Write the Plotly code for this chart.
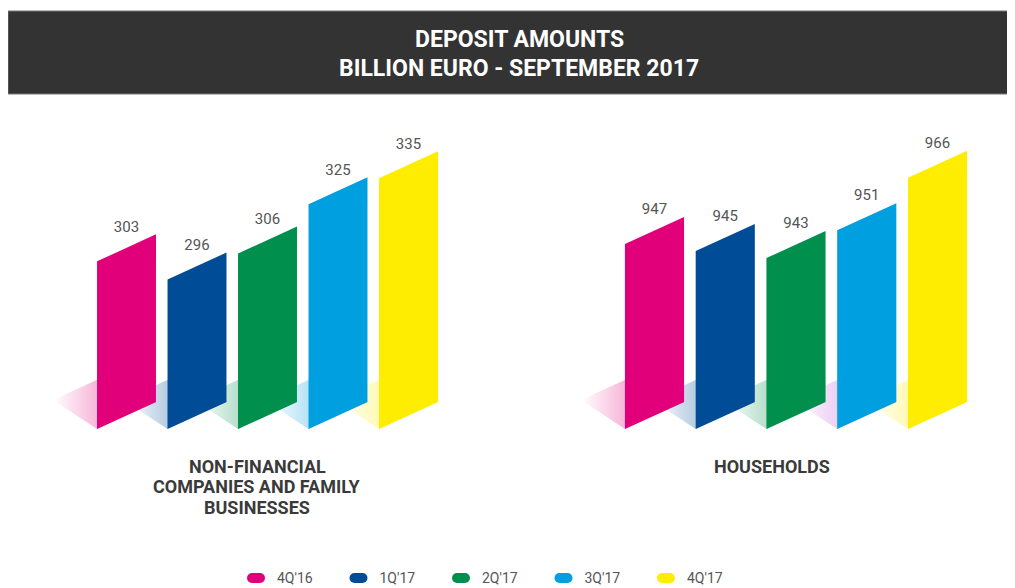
import plotly.graph_objects as go

# ---------------- data ----------------
quarters = ["4Q'16", "1Q'17", "2Q'17", "3Q'17", "4Q'17"]
nfc_values = [303, 296, 306, 325, 335]
household_values = [947, 945, 943, 951, 966]
group_titles = [["NON-FINANCIAL", "COMPANIES AND FAMILY", "BUSINESSES"], ["HOUSEHOLDS"]]
title_lines = ["DEPOSIT AMOUNTS", "BILLION EURO - SEPTEMBER 2017"]

bar_colors = ["#E2007A", "#004C97", "#008F4C", "#009FDF", "#FFED00"]
shadow_rgb_nfc = [(226, 0, 122), (0, 76, 151), (0, 143, 76), (0, 159, 223), (255, 237, 0)]
shadow_rgb_hh = [(226, 0, 122), (0, 76, 151), (0, 143, 76), (190, 90, 220), (255, 237, 0)]

# ---------------- layout constants (reference-window pixels) ----------------
W, H = 1015, 588
OFF = 8  # page body margin: figure origin sits 8px into the window
Y_BOTTOM_PX, Y_TOP_PX, BASE_PX = 440, 120, 429
SKEW_PX = 27
SHADOW_DX_PX, SHADOW_DY_PX = -44, 29
X_RANGE = [-1.2, 4.8]
HALF = 0.418


def pxx(p):
    return (p - OFF) / W


def pxy(p):
    return 1 - (p - OFF) / H


groups = [
    dict(values=nfc_values, shadows=shadow_rgb_nfc, xpx=(41.9, 464.9), base=238.4, ppu=2.595,
         xa="x", ya="y", label_x=257),
    dict(values=household_values, shadows=shadow_rgb_hh, xpx=(569.6, 994.1), base=894.1, ppu=3.495,
         xa="x2", ya="y2", label_x=772),
]

fig = go.Figure()

for g in groups:
    base, ppu = g["base"], g["ppu"]
    unit_px = (g["xpx"][1] - g["xpx"][0]) / (X_RANGE[1] - X_RANGE[0])
    skew = SKEW_PX / ppu
    sdx = SHADOW_DX_PX / unit_px
    sdy = SHADOW_DY_PX / ppu
    # shadows first
    for i, v in enumerate(g["values"]):
        xl, xr = i - HALF, i + HALF
        r, gg, b = g["shadows"][i]
        fig.add_trace(go.Scatter(
            x=[xl, xr, xr + sdx, xl + sdx, xl],
            y=[base, base + skew, base + skew + sdy, base + sdy, base],
            mode="lines", fill="toself", line=dict(width=0, color="rgba(0,0,0,0)"),
            fillgradient=dict(type="horizontal", colorscale=[
                [0, f"rgba({r},{gg},{b},0)"],
                [0.45, f"rgba({r},{gg},{b},0.3)"],
                [1, f"rgba({r},{gg},{b},0.42)"]]),
            xaxis=g["xa"], yaxis=g["ya"], hoverinfo="skip", showlegend=False))
    # bars
    for i, v in enumerate(g["values"]):
        xl, xr = i - HALF, i + HALF
        fig.add_trace(go.Scatter(
            x=[xl, xr, xr, xl, xl],
            y=[base, base + skew, v + skew, v, base],
            mode="lines", fill="toself", fillcolor=bar_colors[i],
            line=dict(width=0, color=bar_colors[i]),
            xaxis=g["xa"], yaxis=g["ya"], name=quarters[i], showlegend=False))
    # value labels
    fig.add_trace(go.Scatter(
        x=list(range(len(g["values"]))),
        y=[v + skew / 2 + 20 / ppu for v in g["values"]],
        text=[str(v) for v in g["values"]],
        mode="text", textposition="middle center",
        textfont=dict(family="Roboto", size=15, color="#555555"),
        xaxis=g["xa"], yaxis=g["ya"], hoverinfo="skip", showlegend=False))

# ---------------- legend (manual pills) ----------------
LEG_X0, LEG_STEP, LEG_Y = 256, 102.5, 578
for i, q in enumerate(quarters):
    cx = LEG_X0 + i * LEG_STEP
    fig.add_trace(go.Scatter(
        x=[cx - 4, cx + 4], y=[LEG_Y, LEG_Y], mode="lines+markers",
        line=dict(width=10, color=bar_colors[i]),
        marker=dict(size=10, color=bar_colors[i], line=dict(width=0)),
        xaxis="x3", yaxis="y3", hoverinfo="skip", showlegend=False))
    fig.add_trace(go.Scatter(
        x=[cx + 21], y=[LEG_Y + 1], text=[q], mode="text", textposition="middle right",
        textfont=dict(family="Roboto", size=14, color="#555555"),
        xaxis="x3", yaxis="y3", hoverinfo="skip", showlegend=False))

hidden = dict(visible=False, fixedrange=True)
layout_axes = {}
for k, g in enumerate(groups):
    sfx = "" if k == 0 else "2"
    base, ppu = g["base"], g["ppu"]
    layout_axes["xaxis" + sfx] = dict(hidden, domain=[pxx(g["xpx"][0]), pxx(g["xpx"][1])], range=X_RANGE)
    layout_axes["yaxis" + sfx] = dict(hidden, domain=[pxy(Y_BOTTOM_PX), pxy(Y_TOP_PX)],
                                      range=[base - (Y_BOTTOM_PX - BASE_PX) / ppu,
                                             base + (BASE_PX - Y_TOP_PX) / ppu],
                                      anchor="x" + sfx)
layout_axes["xaxis3"] = dict(hidden, domain=[0, 1], range=[OFF, W + OFF], anchor="y3")
layout_axes["yaxis3"] = dict(hidden, domain=[0, 1], range=[H + OFF, OFF], anchor="x3")

annotations = []
for j, line in enumerate(title_lines):
    annotations.append(dict(text="<b>" + line + "</b>", x=pxx(519), y=pxy(40 + 28 * j),
                            xref="paper", yref="paper", xanchor="center", yanchor="middle",
                            showarrow=False, font=dict(family="Roboto", size=23, color="#FFFFFF")))
for g, lines in zip(groups, group_titles):
    for j, line in enumerate(lines):
        annotations.append(dict(text="<b>" + line + "</b>", x=pxx(g["label_x"]), y=pxy(466 + 20.5 * j),
                                xref="paper", yref="paper", xanchor="center", yanchor="middle",
                                showarrow=False,
                                font=dict(family="Roboto", size=18, color="#3A3A3A")))

fig.update_layout(
    width=W, height=H, margin=dict(l=0, r=0, t=0, b=0),
    paper_bgcolor="white", plot_bgcolor="rgba(0,0,0,0)", showlegend=False,
    shapes=[dict(type="rect", xref="paper", yref="paper", x0=pxx(8), x1=1.01, y0=pxy(94), y1=pxy(11),
                 fillcolor="#333333", line=dict(width=1, color="#777777"), layer="below")],
    annotations=annotations,
    **layout_axes,
)

fig.write_html("out.html")
